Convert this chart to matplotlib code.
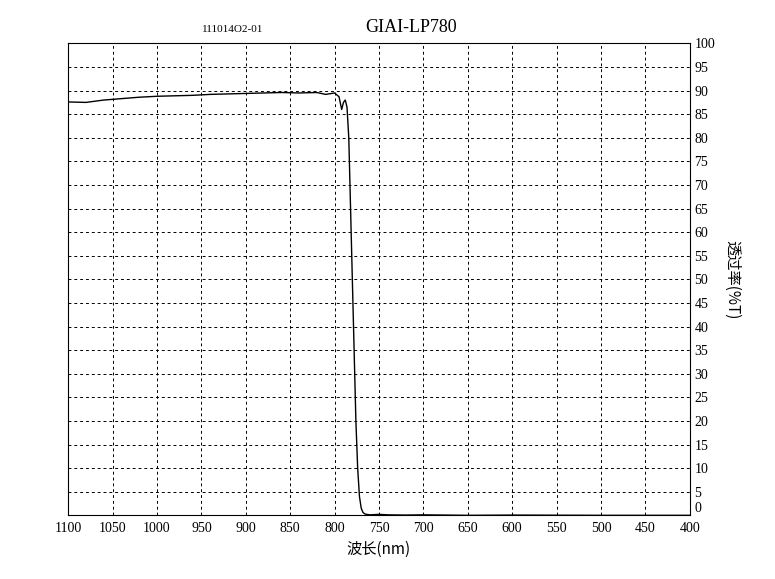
import matplotlib.pyplot as plt

plt.rcParams['font.family'] = ['Noto Sans CJK SC', 'DejaVu Sans']

# wavelength (nm) and transmittance (%T)
wl = [1100, 1080, 1060, 1040, 1020, 1000, 980, 960, 940, 920, 900, 880, 860, 840, 820,
      810, 800, 795, 792, 790, 788, 786, 784, 782, 780, 778, 776, 774, 772, 770, 768,
      766, 764, 760, 750, 740, 720, 700, 650, 600, 500, 400]
tr = [87.6, 87.5, 88.0, 88.3, 88.6, 88.8, 88.9, 89.0, 89.2, 89.3, 89.4, 89.5, 89.6, 89.5, 89.6,
      89.2, 89.5, 88.7, 86.0, 87.5, 88.0, 86.5, 80.0, 65.0, 50.0, 35.0, 20.0, 10.0, 4.0, 1.5, 0.6,
      0.3, 0.2, 0.1, 0.2, 0.1, 0.05, 0.1, 0.0, 0.05, 0.0, 0.0]

fig, ax = plt.subplots(figsize=(7.75, 5.79), dpi=100)
fig.subplots_adjust(left=0.088, right=0.89, top=0.925, bottom=0.11)
ax.plot(wl, tr, color='black', lw=1)
ax.set_xlim(1100, 400)
ax.set_ylim(0, 100)
ax.set_xticks(range(400, 1101, 50))
ax.set_yticks(range(0, 101, 5))
ax.yaxis.tick_right()
ax.yaxis.set_label_position('right')
ax.grid(True, color='black', linestyle=(0, (3, 3)), lw=0.7)
ax.tick_params(labelsize=10, length=0)
ax.tick_params(axis='x', pad=5)
for lab in ax.get_xticklabels() + ax.get_yticklabels():
    lab.set_family('Liberation Serif')
ax.get_yticklabels()[0].set_va('bottom')
ax.set_xlabel('波长(nm)', fontsize=11, labelpad=4)
ax.set_ylabel('透过率(%T)', fontsize=11, labelpad=18, rotation=270)
fig.text(0.53, 0.945, 'GIAI-LP780', fontsize=13, ha='center', family='Liberation Serif')
fig.text(0.30, 0.945, '111014O2-01', fontsize=8, ha='center', family='Liberation Serif')
fig.savefig('out.png')
